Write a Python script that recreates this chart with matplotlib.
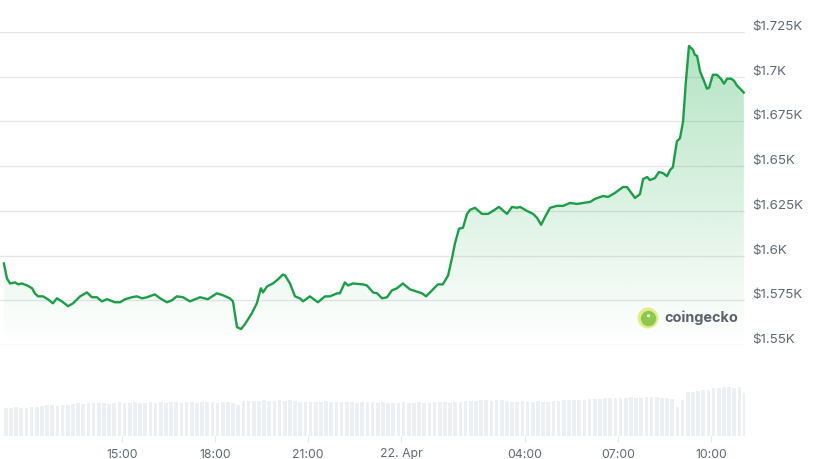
import numpy as np
import matplotlib
matplotlib.use("Agg")
import matplotlib.pyplot as plt
import matplotlib.colors as mcolors
import matplotlib.transforms as mtransforms
from matplotlib.patches import Polygon, Circle

plt.rcParams['font.family'] = ['Inter', 'DejaVu Sans']

# Price series: hours relative to 22 Apr 00:00, price in USD
hours = [-12.81, -12.71, -12.61, -12.45, -12.35, -12.23, -12.06, -11.90, -11.81, -11.71,
         -11.55, -11.39, -11.23, -11.10, -10.94, -10.74, -10.58, -10.35, -10.13, -9.97,
         -9.81, -9.65, -9.48, -9.23, -9.06, -8.90, -8.68, -8.52, -8.35, -8.19,
         -7.94, -7.77, -7.55, -7.39, -7.23, -7.03, -6.81, -6.48, -6.23, -5.94,
         -5.74, -5.52, -5.42, -5.29, -5.16, -5.03, -4.81, -4.65, -4.52, -4.45,
         -4.32, -4.13, -3.97, -3.81, -3.74, -3.58, -3.42, -3.26, -3.16, -2.94,
         -2.68, -2.45, -2.29, -2.06, -1.97, -1.81, -1.71, -1.55, -1.23, -1.10,
         -0.90, -0.77, -0.61, -0.45, -0.29, -0.13, 0.06, 0.29, 0.68, 0.81,
         1.03, 1.19, 1.35, 1.52, 1.65, 1.74, 1.87, 2.00, 2.13, 2.23,
         2.39, 2.61, 2.81, 2.97, 3.16, 3.42, 3.58, 3.74, 3.84, 4.06,
         4.26, 4.39, 4.52, 4.65, 4.81, 5.03, 5.23, 5.45, 5.68, 5.87,
         6.10, 6.26, 6.52, 6.68, 6.90, 7.16, 7.29, 7.55, 7.71, 7.81,
         7.94, 8.03, 8.19, 8.32, 8.45, 8.58, 8.68, 8.77, 8.90, 9.00,
         9.10, 9.19, 9.29, 9.42, 9.48, 9.55, 9.65, 9.77, 9.87, 9.94,
         10.06, 10.19, 10.32, 10.42, 10.52, 10.65, 10.74, 10.84, 10.97, 11.06]
price = [1595.6, 1587.2, 1584.4, 1585.0, 1583.9, 1584.4, 1583.3, 1581.7, 1578.9, 1577.2,
         1577.2, 1575.6, 1573.3, 1576.1, 1574.4, 1571.7, 1573.3, 1577.2, 1579.4, 1576.7,
         1576.7, 1574.4, 1575.6, 1573.9, 1573.9, 1575.6, 1576.7, 1577.2, 1576.1, 1576.7,
         1578.3, 1576.1, 1573.9, 1575.0, 1577.2, 1576.7, 1574.4, 1576.7, 1575.6, 1578.9,
         1577.8, 1576.1, 1574.4, 1560.0, 1558.9, 1561.7, 1567.8, 1573.3, 1581.7, 1579.4,
         1582.8, 1584.4, 1586.7, 1589.4, 1588.9, 1584.4, 1577.2, 1576.1, 1574.4, 1577.2,
         1573.9, 1577.2, 1577.2, 1578.9, 1578.9, 1585.0, 1583.3, 1584.4, 1583.9, 1583.3,
         1579.4, 1578.9, 1576.1, 1576.7, 1580.6, 1581.7, 1584.4, 1581.1, 1578.9, 1577.2,
         1581.1, 1583.9, 1583.9, 1588.9, 1598.9, 1606.7, 1615.0, 1615.6, 1623.3, 1625.6,
         1626.7, 1623.3, 1623.3, 1625.0, 1627.2, 1623.3, 1627.2, 1626.7, 1627.2, 1625.0,
         1623.3, 1621.1, 1617.2, 1621.7, 1626.7, 1627.8, 1627.8, 1629.4, 1628.9, 1629.4,
         1630.0, 1631.7, 1633.3, 1632.8, 1635.0, 1638.3, 1638.3, 1632.2, 1634.4, 1642.8,
         1643.9, 1642.2, 1643.3, 1646.7, 1646.1, 1644.4, 1647.8, 1649.4, 1663.9, 1665.6,
         1675.0, 1697.2, 1717.2, 1715.0, 1712.2, 1711.7, 1702.8, 1697.8, 1693.3, 1693.9,
         1701.1, 1701.1, 1698.9, 1696.1, 1698.9, 1698.9, 1697.8, 1695.0, 1692.8, 1691.1]

# Volume bars, one every 10 minutes starting at -12.75 h (relative units)
vol_start = -12.75
volume = [28, 28, 29, 28, 28, 29,
          29, 30, 31, 31, 30, 31,
          31, 32, 33, 32, 33, 33,
          33, 33, 32, 33, 34, 33,
          33, 34, 33, 33, 34, 33,
          34, 33, 34, 34, 33, 34,
          34, 33, 34, 34, 34, 33,
          34, 34, 33, 31, 35, 35,
          35, 35, 36, 35, 35, 36,
          35, 36, 35, 34, 34, 34,
          34, 34, 35, 34, 34, 34,
          34, 34, 33, 34, 34, 34,
          33, 34, 33, 33, 33, 34,
          33, 33, 34, 33, 33, 34,
          34, 34, 33, 34, 34, 35,
          35, 35, 36, 36, 35, 36,
          36, 35, 34, 34, 35, 34,
          34, 35, 34, 34, 35, 35,
          36, 36, 36, 36, 36, 37,
          37, 37, 38, 38, 38, 38,
          38, 39, 38, 38, 39, 39,
          39, 38, 38, 37, 29, 36,
          44, 44, 45, 46, 46, 48,
          48, 49, 49, 48, 49, 43]

tick_hours = [-9, -6, -3, 0, 4, 7, 10]
tick_labels = ['15:00', '18:00', '21:00', '22. Apr', '04:00', '07:00', '10:00']
price_ticks = [1550, 1575, 1600, 1625, 1650, 1675, 1700, 1725]
price_labels = ['$1.55K', '$1.575K', '$1.6K', '$1.625K', '$1.65K', '$1.675K', '$1.7K', '$1.725K']

W, H = 822, 459
xmin, xmax = -12.935, 11.097
ymin, ymax = 1550, 1725
line_color = '#1c9e48'
text_color = '#5f6875'

fig = plt.figure(figsize=(W / 100, H / 100), dpi=100)

# price panel
ax = fig.add_axes([0 / W, (H - 345) / H, 745 / W, 313 / H])
ax.set_xlim(xmin, xmax)
ax.set_ylim(ymin, ymax)

grad = np.zeros((256, 1, 4))
grad[..., :3] = mcolors.to_rgb('#34b45c')
grad[..., 3] = np.linspace(0.38, 0.0, 256).reshape(-1, 1)
im = ax.imshow(grad, extent=[xmin, xmax, ymin, ymax], aspect='auto', origin='upper', zorder=1)
verts = list(zip(hours, price)) + [(hours[-1], ymin), (hours[0], ymin)]
poly = Polygon(verts, closed=True, facecolor='none', edgecolor='none', transform=ax.transData)
ax.add_patch(poly)
im.set_clip_path(poly)

ax.plot(hours, price, color=line_color, linewidth=1.7, zorder=3, solid_joinstyle='round')
ax.set_xlim(xmin, xmax)
ax.set_ylim(ymin, ymax)

# gridlines plus labels sitting a little above them on the right
ax.set_yticks(price_ticks)
ax.tick_params(axis='y', length=0, labelleft=False, labelright=False)
label_tr = mtransforms.blended_transform_factory(ax.transAxes, ax.transData) + \
    mtransforms.ScaledTranslation(7 / 100, 5 / 100, fig.dpi_scale_trans)
for v, lab in zip(price_ticks, price_labels):
    ax.text(1, v, lab, transform=label_tr, ha='left', va='center',
            fontsize=9.6, color=text_color, clip_on=False)
ax.set_xticks([])
ax.grid(axis='y', color='#e6e6e6', linewidth=0.9, zorder=0)
ax.set_axisbelow(True)
for s in ax.spines.values():
    s.set_visible(False)
ax.patch.set_alpha(0)

# coingecko watermark
logo_ax = fig.add_axes([637 / W, (H - 329) / H, 22 / W, 22 / H])
logo_ax.set_xlim(-1, 1)
logo_ax.set_ylim(-1, 1)
logo_ax.set_aspect('equal')
logo_ax.axis('off')
logo_ax.add_patch(Circle((0, 0), 0.95, facecolor='#e3ec8c', edgecolor='none'))
logo_ax.add_patch(Circle((0.05, -0.05), 0.7, facecolor='#8cc84b', edgecolor='none'))
logo_ax.add_patch(Circle((0.05, 0.2), 0.14, facecolor='white', edgecolor='none'))
fig.text(664 / W, 1 - 318 / H, 'coingecko', fontsize=10.4, fontweight='bold',
         color='#5a616b', ha='left', va='center')

# volume panel
vax = fig.add_axes([0 / W, (H - 436) / H, 745 / W, 50 / H])
vol_hours = [vol_start + i / 6 for i in range(len(volume))]
vax.bar(vol_hours, volume, width=0.72 / 6, color='#ecf0f3', linewidth=0)
vax.set_xlim(xmin, xmax)
vax.set_ylim(0, 50)
vax.set_yticks([])
vax.set_xticks(tick_hours)
vax.set_xticklabels(tick_labels)
vax.tick_params(axis='x', length=4, width=0.8, color='#e3e6ea', pad=5,
                labelsize=8.8, labelcolor=text_color)
for s in vax.spines.values():
    s.set_visible(False)
vax.patch.set_alpha(0)

fig.savefig('out.png', dpi=100, facecolor='white')
